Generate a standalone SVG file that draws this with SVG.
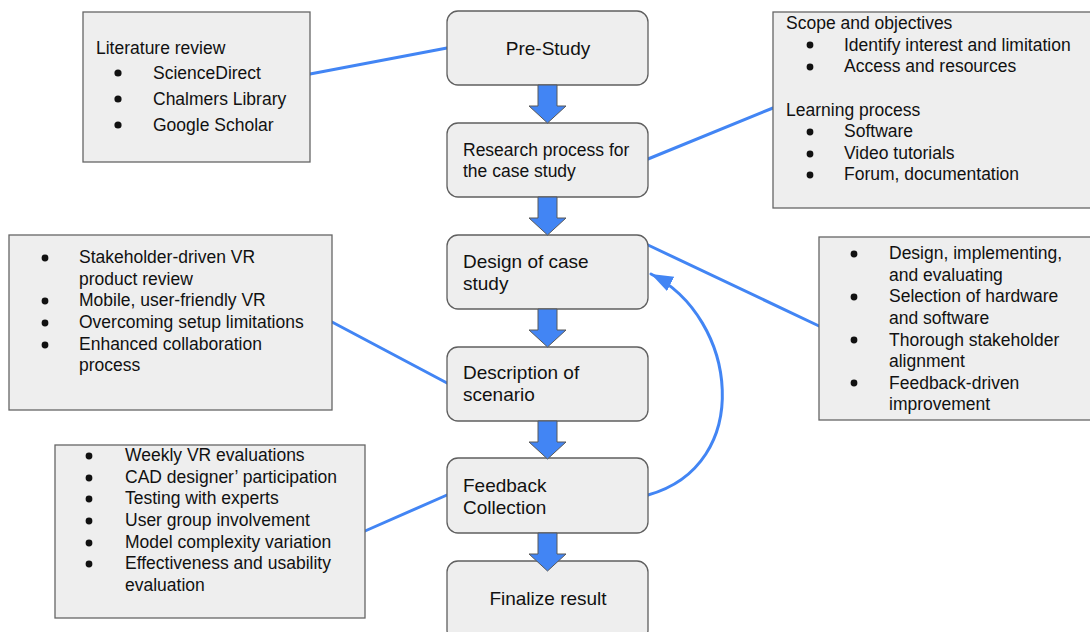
<svg xmlns="http://www.w3.org/2000/svg" width="1090" height="632" viewBox="0 0 1090 632">
<style>
.bg{fill:#ffffff}
.step{fill:#eeeeee;stroke:#5f5f5f;stroke-width:1.3}
.note{fill:#eeeeee;stroke:#666666;stroke-width:1.3}
.t{font-family:"Liberation Sans",Arial,sans-serif;fill:#111111}
.big{font-size:19px}
.mid{font-size:17.5px}
.sm{font-size:17.5px}
.b{fill:#111111}
.link{fill:none;stroke:#4285f4;stroke-width:3;stroke-linecap:round}
.blk{fill:#4285f4;stroke:#595959;stroke-width:1}
</style>
<defs>
<path id="blockArrow" d="M-9.5,0 V21 H-18.5 L0,38 L18.5,21 H9.5 V0 Z"/>
<marker id="head" markerUnits="userSpaceOnUse" markerWidth="24" markerHeight="20" refX="22" refY="8" orient="auto">
<path d="M0,0 L22,8 L0,16 Z" fill="#4285f4"/>
</marker>
</defs>
<rect class="bg" x="0" y="0" width="1090" height="632"/>

<g id="connectors">
<line class="link" x1="310" y1="74" x2="447" y2="48"/>
<line class="link" x1="648" y1="159" x2="773" y2="108"/>
<line class="link" x1="648" y1="245" x2="819" y2="326"/>
<line class="link" x1="332" y1="322" x2="447" y2="383"/>
<line class="link" x1="365" y1="531" x2="447" y2="495"/>
<path class="link" d="M648,495 C755,465 738,318 651,274" marker-end="url(#head)"/>
</g>

<g id="literature">
<rect class="note" x="83" y="12" width="227" height="150"/>
<text class="t sm" x="96" y="54">Literature review</text>
<circle class="b" cx="118" cy="73" r="3.6"/>
<circle class="b" cx="118" cy="99" r="3.6"/>
<circle class="b" cx="118" cy="125" r="3.6"/>
<text class="t sm" x="153" y="79">ScienceDirect</text>
<text class="t sm" x="153" y="105">Chalmers Library</text>
<text class="t sm" x="153" y="131">Google Scholar</text>
</g>

<g id="scope">
<rect class="note" x="773" y="12" width="320" height="196"/>
<text class="t sm" x="786" y="29">Scope and objectives</text>
<circle class="b" cx="810" cy="45" r="3.4"/>
<circle class="b" cx="810" cy="67" r="3.4"/>
<text class="t sm" x="844" y="51">Identify interest and limitation</text>
<text class="t sm" x="844" y="72">Access and resources</text>
<text class="t sm" x="786" y="116">Learning process</text>
<circle class="b" cx="810" cy="132" r="3.4"/>
<circle class="b" cx="810" cy="154" r="3.4"/>
<circle class="b" cx="810" cy="175" r="3.4"/>
<text class="t sm" x="844" y="137">Software</text>
<text class="t sm" x="844" y="159">Video tutorials</text>
<text class="t sm" x="844" y="180">Forum, documentation</text>
</g>

<g id="scenario-notes">
<rect class="note" x="9" y="235" width="323" height="175"/>
<circle class="b" cx="45" cy="258" r="3.4"/>
<circle class="b" cx="45" cy="301" r="3.4"/>
<circle class="b" cx="45" cy="323" r="3.4"/>
<circle class="b" cx="45" cy="345" r="3.4"/>
<text class="t sm" x="79" y="263">Stakeholder-driven VR</text>
<text class="t sm" x="79" y="285">product review</text>
<text class="t sm" x="79" y="306">Mobile, user-friendly VR</text>
<text class="t sm" x="79" y="328">Overcoming setup limitations</text>
<text class="t sm" x="79" y="350">Enhanced collaboration</text>
<text class="t sm" x="79" y="371">process</text>
</g>

<g id="design-notes">
<rect class="note" x="819" y="237" width="274" height="183"/>
<circle class="b" cx="854" cy="254" r="3.4"/>
<circle class="b" cx="854" cy="297" r="3.4"/>
<circle class="b" cx="854" cy="340" r="3.4"/>
<circle class="b" cx="854" cy="383" r="3.4"/>
<text class="t sm" x="889" y="259">Design, implementing,</text>
<text class="t sm" x="889" y="281">and evaluating</text>
<text class="t sm" x="889" y="302">Selection of hardware</text>
<text class="t sm" x="889" y="324">and software</text>
<text class="t sm" x="889" y="346">Thorough stakeholder</text>
<text class="t sm" x="889" y="367">alignment</text>
<text class="t sm" x="889" y="389">Feedback-driven</text>
<text class="t sm" x="889" y="410">improvement</text>
</g>

<g id="feedback-notes">
<rect class="note" x="55" y="445" width="310" height="173"/>
<circle class="b" cx="89" cy="456" r="3.4"/>
<circle class="b" cx="89" cy="478" r="3.4"/>
<circle class="b" cx="89" cy="499" r="3.4"/>
<circle class="b" cx="89" cy="521" r="3.4"/>
<circle class="b" cx="89" cy="543" r="3.4"/>
<circle class="b" cx="89" cy="564" r="3.4"/>
<text class="t sm" x="125" y="461">Weekly VR evaluations</text>
<text class="t sm" x="125" y="483">CAD designer’ participation</text>
<text class="t sm" x="125" y="504">Testing with experts</text>
<text class="t sm" x="125" y="526">User group involvement</text>
<text class="t sm" x="125" y="548">Model complexity variation</text>
<text class="t sm" x="125" y="569">Effectiveness and usability</text>
<text class="t sm" x="125" y="591">evaluation</text>
</g>

<g id="pre-study">
<rect class="step" x="447" y="11" width="201" height="74" rx="11"/>
<text class="t big" x="548" y="55" text-anchor="middle">Pre-Study</text>
</g>
<g id="research-process">
<rect class="step" x="447" y="123" width="201" height="74" rx="11"/>
<text class="t mid" x="463" y="156">Research process for</text>
<text class="t mid" x="463" y="177">the case study</text>
</g>
<g id="design-case-study">
<rect class="step" x="447" y="235" width="201" height="74" rx="11"/>
<text class="t big" x="463" y="268">Design of case</text>
<text class="t big" x="463" y="290">study</text>
</g>
<g id="description-scenario">
<rect class="step" x="447" y="347" width="201" height="74" rx="11"/>
<text class="t big" x="463" y="379">Description of</text>
<text class="t big" x="463" y="401">scenario</text>
</g>
<g id="feedback-collection">
<rect class="step" x="447" y="458" width="201" height="75" rx="11"/>
<text class="t big" x="463" y="492">Feedback</text>
<text class="t big" x="463" y="514">Collection</text>
</g>
<g id="finalize-result">
<rect class="step" x="447" y="561" width="201" height="80" rx="11"/>
<text class="t big" x="548" y="605" text-anchor="middle">Finalize result</text>
</g>

<g id="flow-arrows">
<use href="#blockArrow" class="blk" x="547.5" y="85"/>
<use href="#blockArrow" class="blk" x="547.5" y="197"/>
<use href="#blockArrow" class="blk" x="547.5" y="309"/>
<use href="#blockArrow" class="blk" x="547.5" y="421"/>
<use href="#blockArrow" class="blk" x="547.5" y="533"/>
</g>
</svg>
